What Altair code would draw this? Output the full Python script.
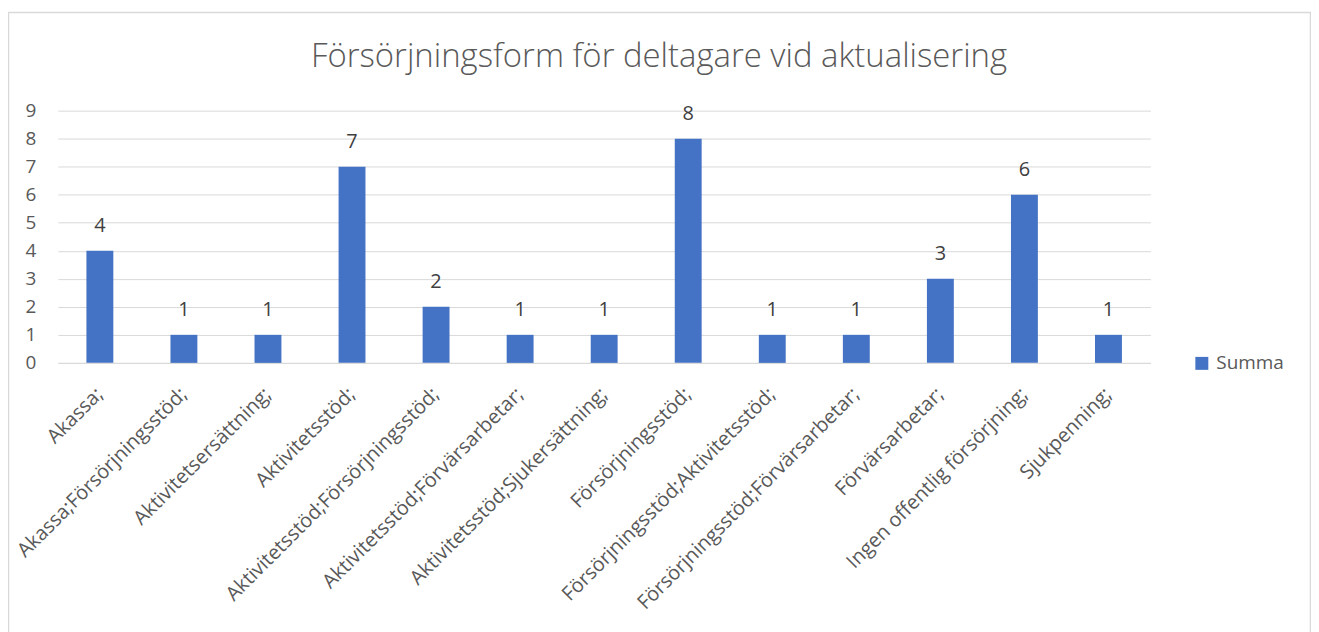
import altair as alt
import pandas as pd

categories = [
    "Akassa;",
    "Akassa;Försörjningsstöd;",
    "Aktivitetsersättning;",
    "Aktivitetsstöd;",
    "Aktivitetsstöd;Försörjningsstöd;",
    "Aktivitetsstöd;Förvärsarbetar;",
    "Aktivitetsstöd;Sjukersättning;",
    "Försörjningsstöd;",
    "Försörjningsstöd;Aktivitetsstöd;",
    "Försörjningsstöd;Förvärsarbetar;",
    "Förvärsarbetar;",
    "Ingen offentlig försörjning;",
    "Sjukpenning;",
]
values = [4, 1, 1, 7, 2, 1, 1, 8, 1, 1, 3, 6, 1]
series_name = "Summa"
y_ticks = list(range(0, 10))
title_text = "Försörjningsform för deltagare vid aktualisering"

df = pd.DataFrame({"kategori": categories, "antal": values, "serie": series_name})

FONT = "Open Sans"
GREY = "#595959"
W, H = 1096, 253

x_axis = alt.Axis(
    title=None,
    labelAngle=-45,
    labelAlign="right",
    labelBaseline="middle",
    labelFont=FONT,
    labelFontSize=20,
    labelColor=GREY,
    labelPadding=28,
    labelOverlap=False,
    ticks=False,
    domain=True,
    domainColor="#d9d9d9",
    labelLimit=500,
)
y_axis = alt.Axis(
    title=None,
    values=y_ticks,
    tickCount=10,
    grid=True,
    gridColor="#d9d9d9",
    domain=False,
    ticks=False,
    labelOverlap=False,
    labelFont=FONT,
    labelFontSize=19,
    labelColor=GREY,
    labelPadding=22,
)
x_scale = alt.Scale(paddingInner=0.68, paddingOuter=0.34)
y_scale = alt.Scale(domain=[0, 9], nice=False)

bars = alt.Chart(df).mark_bar().encode(
    x=alt.X("kategori:N", sort=categories, scale=x_scale, axis=x_axis),
    y=alt.Y("antal:Q", scale=y_scale, axis=y_axis),
    color=alt.Color(
        "serie:N",
        scale=alt.Scale(domain=[series_name], range=["#4472C4"]),
        legend=alt.Legend(
            title=None,
            orient="none",
            legendX=W + 42,
            legendY=244,
            symbolType="square",
            symbolSize=169,
            symbolStrokeWidth=0,
            labelFont=FONT,
            labelFontSize=19,
            labelColor=GREY,
            labelOffset=5,
        ),
    ),
)

labels = alt.Chart(df).mark_text(
    dy=-25, font=FONT, fontSize=20, color="#404040"
).encode(
    x=alt.X("kategori:N", sort=categories, scale=x_scale, axis=x_axis),
    y=alt.Y("antal:Q", scale=y_scale, axis=y_axis),
    text="antal:Q",
)

single = alt.Data(values=[{"t": title_text}])

border = alt.Chart(single).mark_rect(
    fill=None, stroke="#d9d9d9", strokeWidth=1.5
).encode(
    x=alt.value(-49.5),
    x2=alt.value(W + 160.5),
    y=alt.value(-98.5),
    y2=alt.value(H + 280),
)

title = alt.Chart(single).mark_text(
    font=FONT, fontSize=33, fontWeight=300, color=GREY,
    align="center", baseline="alphabetic",
).encode(
    x=alt.value(603),
    y=alt.value(-44),
    text="t:N",
)

chart = alt.layer(border, title, bars, labels).properties(
    width=W,
    height=H,
    padding={"left": 50, "top": 102, "right": 161, "bottom": 269},
    autosize=alt.AutoSizeParams(type="none"),
).configure_view(stroke=None)

chart.save("out.html", embed_options={"renderer": "svg", "actions": False})
